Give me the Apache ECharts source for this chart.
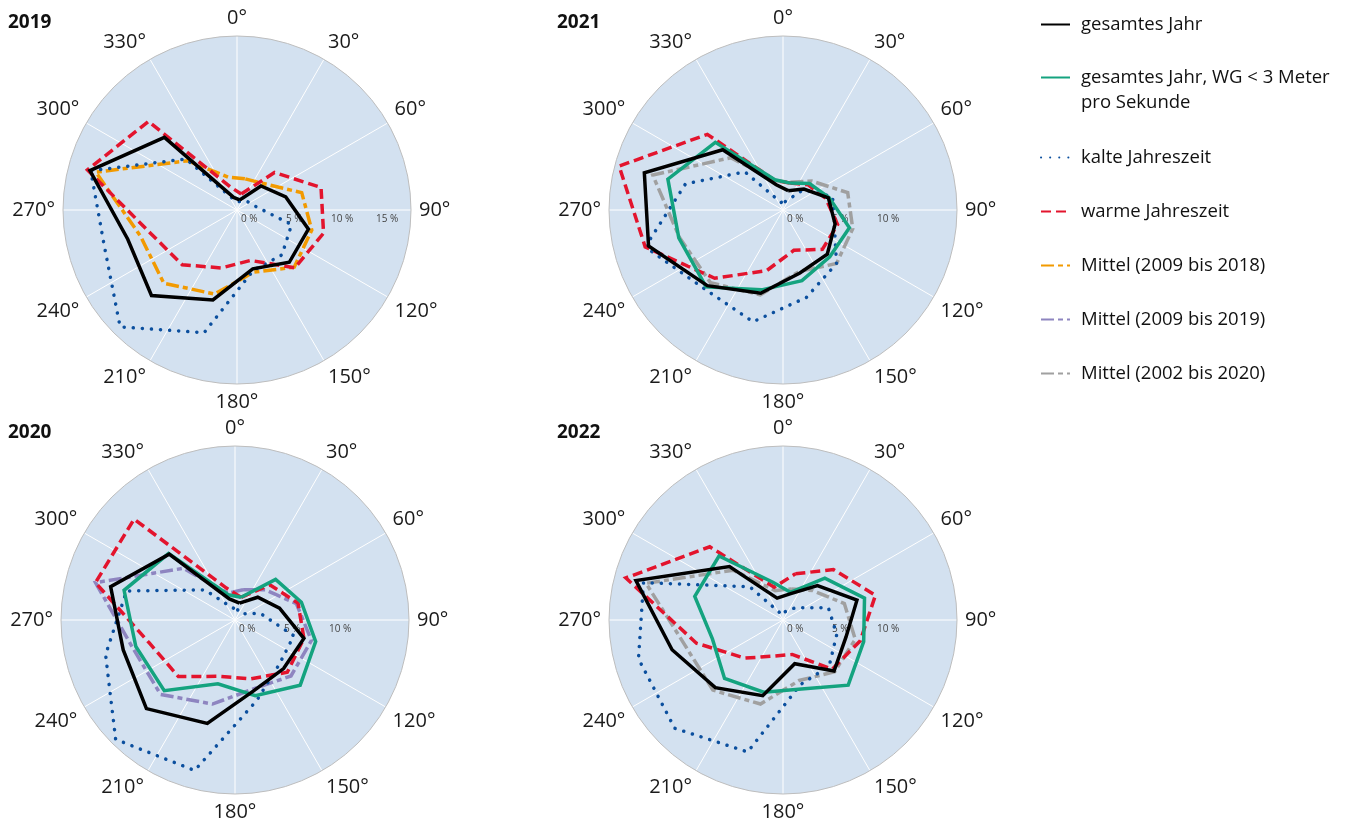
<!DOCTYPE html>
<html lang="de">
<head>
  <meta charset="UTF-8">
  <title>Windrichtungen</title>
</head>
<body style="margin:0; background-color:#fff;">
<div id="main" style="width:1348px; height:819px;"></div>

<script src="https://cdn.jsdelivr.net/npm/echarts@6/dist/echarts.min.js"></script>

<script>
  // Windrichtung (Mitte der 30°-Sektoren)
  var dirs = [15, 45, 75, 105, 135, 165, 195, 225, 255, 285, 315, 345];

  // 2019
  var jahr2019 = [1.2, 3.9, 5.8, 8.5, 8.5, 7.0, 10.7, 13.9, 13.0, 17.5, 11.8, 1.5];
  var kalt2019 = [1.0, 1.5, 2.0, 6.5, 7.3, 7.2, 14.6, 19.0, 15.8, 17.4, 8.3, 1.2];
  var warm2019 = [1.9, 6.1, 10.0, 10.3, 9.4, 6.0, 6.9, 8.9, 10.3, 17.8, 14.4, 2.7];
  var mittel0918 = [3.7, 4.3, 7.7, 8.9, 9.3, 7.4, 10.0, 11.9, 11.5, 16.8, 8.0, 3.9];

  // 2020
  var jahr2020 = [2.0, 3.7, 5.3, 8.2, 7.9, 8.4, 12.3, 14.4, 13.3, 14.8, 10.7, 2.5];
  var wg2020 = [2.7, 6.6, 7.9, 9.6, 10.6, 9.0, 7.6, 11.5, 11.8, 13.2, 10.8, 3.0];
  var kalt2020 = [1.2, 1.0, 3.0, 7.0, 7.2, 9.6, 17.9, 19.4, 15.4, 12.9, 4.9, 1.5];
  var warm2020 = [2.7, 5.7, 7.5, 8.2, 8.5, 7.0, 6.7, 9.2, 10.2, 16.6, 16.4, 3.8];
  var mittel0919 = [3.6, 4.9, 7.3, 9.1, 9.1, 8.2, 10.0, 12.1, 12.2, 16.6, 8.4, 3.2];

  // 2021
  var jahr2021 = [2.3, 3.4, 5.4, 6.2, 7.2, 7.5, 9.9, 12.3, 16.0, 16.5, 9.8, 3.0];
  var wg2021 = [3.2, 4.3, 5.5, 7.9, 7.6, 8.4, 9.5, 12.5, 12.4, 13.7, 11.0, 3.6];
  var kalt2021 = [1.0, 3.3, 5.9, 6.1, 8.7, 10.4, 13.3, 12.8, 16.4, 11.6, 6.2, 0.9];
  var warm2021 = [3.2, 4.1, 5.1, 6.5, 6.4, 4.8, 7.2, 11.1, 16.4, 19.5, 12.3, 3.5];
  var mittel0220a = [3.3, 4.7, 7.7, 8.3, 8.7, 7.3, 10.1, 11.8, 12.3, 15.5, 8.5, 3.5];

  // 2022
  var jahr2022 = [3.1, 5.6, 8.8, 7.5, 8.3, 5.2, 9.0, 11.0, 13.2, 17.5, 8.7, 2.6];
  var wg2022 = [3.3, 6.8, 9.7, 9.6, 10.6, 8.2, 8.6, 9.5, 8.4, 10.5, 10.4, 4.5];
  var kalt2022 = [1.0, 2.0, 5.4, 6.4, 7.5, 7.7, 15.7, 17.6, 17.2, 16.6, 5.4, 0.7];
  var warm2022 = [5.5, 8.2, 11.0, 9.2, 8.0, 4.1, 4.3, 6.2, 10.3, 18.7, 11.9, 3.9];
  var mittel0220b = [3.7, 4.8, 7.3, 8.6, 8.4, 7.2, 10.0, 11.4, 11.6, 16.3, 8.1, 3.5];

  var N_JAHR = 'gesamtes Jahr';
  var N_WG = 'gesamtes Jahr, WG < 3 Meter\npro Sekunde';
  var N_KALT = 'kalte Jahreszeit';
  var N_WARM = 'warme Jahreszeit';
  var N_M18 = 'Mittel (2009 bis 2018)';
  var N_M19 = 'Mittel (2009 bis 2019)';
  var N_M20 = 'Mittel (2002 bis 2020)';

  var styles = {};
  styles[N_JAHR] = { color: '#000000', width: 3.5, type: 'solid' };
  styles[N_WG] = { color: '#14a37f', width: 3.5, type: 'solid' };
  styles[N_KALT] = { color: '#0b4f9e', width: 3.5, type: [0.1, 9], cap: 'round' };
  styles[N_WARM] = { color: '#e3142d', width: 3.5, type: [10, 5] };
  styles[N_M18] = { color: '#f29a00', width: 3.5, type: [13, 4, 5, 4] };
  styles[N_M19] = { color: '#8e85c0', width: 3.5, type: [13, 4, 5, 4] };
  styles[N_M20] = { color: '#a0a0a0', width: 3.5, type: [13, 4, 5, 4] };

  var plots = [
    { title: '2019', left: 8, center: [237, 210], rlabels: [0, 5, 10, 15],
      lines: [[N_M18, mittel0918], [N_KALT, kalt2019], [N_WARM, warm2019], [N_JAHR, jahr2019]] },
    { title: '2021', left: 557, center: [783, 210], rlabels: [0, 5, 10],
      lines: [[N_M20, mittel0220a], [N_KALT, kalt2021], [N_WARM, warm2021], [N_WG, wg2021], [N_JAHR, jahr2021]] },
    { title: '2020', left: 8, center: [235, 620], rlabels: [0, 5, 10],
      lines: [[N_M19, mittel0919], [N_KALT, kalt2020], [N_WARM, warm2020], [N_WG, wg2020], [N_JAHR, jahr2020]] },
    { title: '2022', left: 557, center: [783, 620], rlabels: [0, 5, 10],
      lines: [[N_M20, mittel0220b], [N_KALT, kalt2022], [N_WARM, warm2022], [N_WG, wg2022], [N_JAHR, jahr2022]] }
  ];

  var R = 174;
  var FONT = '"Open Sans", Lato, sans-serif';

  var polar = [], angleAxis = [], radiusAxis = [], series = [], title = [];

  plots.forEach(function (p, k) {
    // Hauptdiagramm
    polar.push({ center: p.center, radius: R });
    angleAxis.push({
      polarIndex: 2 * k, type: 'value', min: 0, max: 360, interval: 30,
      startAngle: 90, clockwise: true,
      axisLine: { show: true, lineStyle: { color: '#bdbdbd', width: 1 } },
      axisTick: { show: false },
      axisLabel: {
        margin: 8, fontSize: 20, color: '#1a1a1a', fontFamily: FONT,
        formatter: function (v) { return v === 360 ? '' : v + '°'; }
      },
      splitLine: { show: true, lineStyle: { color: '#ffffff', width: 1 } }
    });
    radiusAxis.push({
      polarIndex: 2 * k, type: 'value', min: 0, max: 20, interval: 5,
      axisLine: { show: false }, axisTick: { show: false }, axisLabel: { show: false },
      splitLine: { show: true, lineStyle: { color: '#ffffff', width: 1 } },
      splitArea: { show: true, areaStyle: { color: ['#d3e1f0'] } }
    });
    // zweites Polar nur für die %-Beschriftung nach rechts
    polar.push({ center: p.center, radius: 180 });
    angleAxis.push({ polarIndex: 2 * k + 1, type: 'value', min: 0, max: 360, startAngle: 0, show: false });
    radiusAxis.push({
      polarIndex: 2 * k + 1, type: 'value', min: 0, max: 20, interval: 5,
      axisLine: { show: false }, axisTick: { show: false }, splitLine: { show: false },
      axisLabel: {
        show: true, fontSize: 10, color: '#444', fontFamily: FONT,
        align: 'left', verticalAlign: 'top', margin: -4, padding: [0, 0, 0, 4],
        formatter: function (v) { return p.rlabels.indexOf(v) >= 0 ? v + ' %' : ''; }
      }
    });

    title.push({
      text: p.title, left: p.left, top: p.center[1] - 197, padding: 0,
      textStyle: { fontSize: 19, fontWeight: 'bold', color: '#111', fontFamily: FONT }
    });

    p.lines.forEach(function (l) {
      var st = styles[l[0]];
      var pts = dirs.map(function (d, i) { return [l[1][i], d]; });
      pts.push(pts[0]);
      series.push({
        name: l[0], type: 'line', coordinateSystem: 'polar', polarIndex: 2 * k,
        symbol: 'none', data: pts, animation: false,
        lineStyle: { color: st.color, width: st.width, type: st.type, cap: st.cap || 'butt', join: 'miter' },
        itemStyle: { color: st.color }
      });
    });
  });

  // Legende in drei Blöcken, damit das zweizeilige Element oben am Symbol steht
  function legendPart(names, top, fmt) {
    return {
      orient: 'vertical', left: 1035, top: top, itemGap: 29,
      itemWidth: 29, itemHeight: 14,
      itemStyle: { color: 'rgba(0,0,0,0)', borderWidth: 0 },
      data: names,
      formatter: fmt || '{name}',
      textStyle: { fontSize: 18.5, lineHeight: 25, color: '#111', fontFamily: FONT, padding: [0, 0, 0, 6] }
    };
  }

  var chart = echarts.init(document.getElementById('main'));
  chart.setOption({
    animation: false,
    title: title,
    polar: polar,
    angleAxis: angleAxis,
    radiusAxis: radiusAxis,
    legend: [
      legendPart([N_JAHR], 7),
      legendPart([N_WG], 35, function (name) { return ' \n' + name; }),
      legendPart([N_KALT, N_WARM, N_M18, N_M19, N_M20], 140)
    ],
    series: series
  });
</script>
</body>
</html>
